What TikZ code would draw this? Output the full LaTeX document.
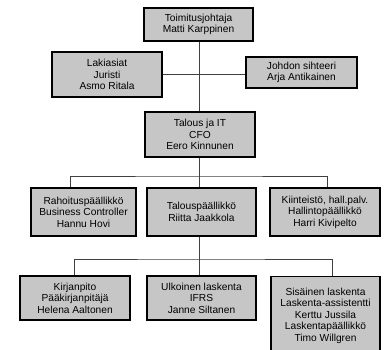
\documentclass[tikz,border=0pt]{standalone}
\usepackage{fontspec}
\setmainfont{Liberation Sans}
\usetikzlibrary{calc}

\begin{document}
\begin{tikzpicture}[x=1pt,y=-1pt,thin,
	box/.style={draw=black,line width=1.3pt,fill=gray!45,align=center,
		inner sep=0pt,font=\fontsize{10.2}{11.6}\selectfont},
	line/.style={draw=black!75,line width=0.8pt}]

\useasboundingbox[fill=white] (0,0) rectangle (385,350);

% top of the organisation
\node[box,minimum width=109pt,minimum height=33pt] (ceo) at (198.5,24.5)
	{Toimitusjohtaja\\Matti Karppinen};
\node[box,minimum width=110pt,minimum height=45pt] (laki) at (107,74.5)
	{Lakiasiat\\Juristi\\Asmo Ritala};
\node[box,minimum width=111pt,minimum height=31pt] (siht) at (301.5,72.5)
	{Johdon sihteeri\\Arja Antikainen};
\node[box,minimum width=110pt,minimum height=45pt] (cfo) at (200,134.5)
	{Talous ja IT\\CFO\\Eero Kinnunen};

% second level
\node[box,minimum width=105pt,minimum height=48pt] (raho) at (83.5,212)
	{Rahoitusp\"a\"allikk\"o\\Business Controller\\Hannu Hovi};
\node[box,minimum width=109pt,minimum height=48pt] (talp) at (201.5,212)
	{Talousp\"a\"allikk\"o\\Riitta Jaakkola};
\node[box,minimum width=110pt,minimum height=48pt] (kiin) at (325,212)
	{Kiinteist\"o, hall.palv.\\Hallintop\"a\"allikk\"o\\Harri Kivipelto};

% third level
\node[box,minimum width=110pt,minimum height=44pt] (kirj) at (75,298)
	{Kirjanpito\\P\"a\"akirjanpit\"aj\"a\\Helena Aaltonen};
\node[box,minimum width=109pt,minimum height=44pt] (ulko) at (201.5,298)
	{Ulkoinen laskenta\\IFRS\\Janne Siltanen};
\node[box,minimum width=109pt,minimum height=78pt,anchor=north] (sisa) at (325.5,276)
	{Sis\"ainen laskenta\\Laskenta-assistentti\\Kerttu Jussila\\Laskentap\"a\"allikk\"o\\Timo Willgren};

% connectors
\coordinate (bus1) at (199,176);
\coordinate (bus2) at (199,259);

\draw[line] (ceo.south -| bus1) -- (cfo.north -| bus1);
\draw[line] (laki.east |- 0,74) -- (siht.west |- 0,74);
\draw[line] (cfo.south -| bus1) -- (talp.north -| bus1);
\draw[line] (raho.north -| 70,0) |- (bus1) -| (kiin.north -| 327,0);
\draw[line] (talp.south -| bus2) -- (bus2);
\draw[line] (kirj.north -| 74,0) |- (bus2) -| (sisa.north -| 332,0);
\draw[line] (bus2) -- (ulko.north -| bus2);

\end{tikzpicture}
\end{document}
